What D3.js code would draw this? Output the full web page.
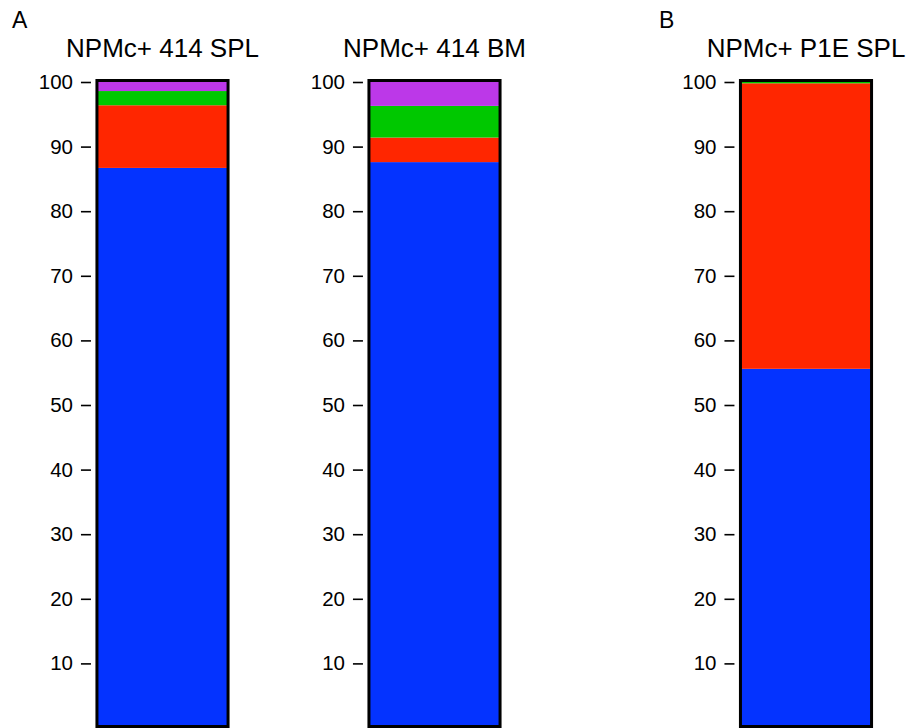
<!DOCTYPE html>
<html>
<head>
<meta charset="utf-8">
<script src="https://cdn.jsdelivr.net/npm/d3@7"></script>
<style>
  html, body { margin: 0; padding: 0; background: #fff; }
  svg { display: block; font-family: "Liberation Sans", Arial, sans-serif; }
</style>
</head>
<body>
<svg id="chart" width="912" height="728"></svg>
<script>
// ---- data ----
const panelA = ["NPMc+ 414 SPL", "NPMc+ 414 BM"];
const panelB = ["NPMc+ P1E SPL"];
const categories = panelA.concat(panelB);
const seriesNames = ["s1", "s2", "s3", "s4"];      // bottom to top
const s1 = [86.7, 87.6, 55.6];   // blue
const s2 = [9.7, 3.8, 44.2];     // red
const s3 = [2.2, 4.9, 0.2];      // green
const s4 = [1.4, 3.7, 0.0];      // purple
const tickValues = [10, 20, 30, 40, 50, 60, 70, 80, 90, 100];
const panelLabels = ["A", "B"];

// ---- styling ----
const colors = {s1: "#0433FF", s2: "#FF2600", s3: "#00C800", s4: "#BC38E8"};

const svg = d3.select("#chart");

const rows = categories.map((c, i) => ({cat: c, s1: s1[i], s2: s2[i], s3: s3[i], s4: s4[i]}));
const stacked = d3.stack().keys(seriesNames)(rows);

const y = d3.scaleLinear().domain([0, 100]).range([728, 82]);

const xA = d3.scaleBand().domain(panelA).range([26.5, 570.5])
  .paddingInner(0.518).paddingOuter(0.259);
const xB = d3.scaleBand().domain(panelB).range([670, 942])
  .paddingInner(0.518).paddingOuter(0.259);
const xOf = c => panelA.includes(c) ? xA(c) : xB(c);
const bw = xA.bandwidth();
const frameShift = 1.5;

// bars
stacked.forEach(layer => {
  svg.append("g")
    .selectAll("rect")
    .data(layer)
    .join("rect")
    .attr("x", d => xOf(d.data.cat))
    .attr("width", bw)
    .attr("y", d => y(d[1]))
    .attr("height", d => Math.max(0, y(d[0]) - y(d[1])))
    .attr("fill", colors[layer.key]);
});

// frames
svg.append("g").selectAll("rect")
  .data(categories)
  .join("rect")
  .attr("x", d => xOf(d))
  .attr("width", bw)
  .attr("y", y(100) - frameShift)
  .attr("height", y(0) - y(100))
  .attr("fill", "none")
  .attr("stroke", "#000")
  .attr("stroke-width", 3);

// axes
categories.forEach(c => {
  const g = svg.append("g")
    .attr("transform", `translate(${xOf(c) - 6},0)`)
    .call(d3.axisLeft(y).tickValues(tickValues).tickSize(10).tickPadding(8));
  g.select(".domain").remove();
  g.selectAll(".tick line").attr("stroke", "#000").attr("stroke-width", 1.6);
  g.selectAll(".tick text")
    .attr("fill", "#000")
    .style("font-size", "20.5px")
    .style("font-family", "'Liberation Sans', Arial, sans-serif");
});

// titles
svg.append("g").selectAll("text")
  .data(categories)
  .join("text")
  .attr("x", d => xOf(d) + bw / 2)
  .attr("y", 57)
  .attr("text-anchor", "middle")
  .style("font-size", "26px")
  .attr("fill", "#000")
  .text(d => d);

// panel labels
svg.append("text").attr("x", 12).attr("y", 27.5)
  .style("font-size", "23px").text(panelLabels[0]);
svg.append("text").attr("x", 659).attr("y", 27.5)
  .style("font-size", "23px").text(panelLabels[1]);
</script>
</body>
</html>
